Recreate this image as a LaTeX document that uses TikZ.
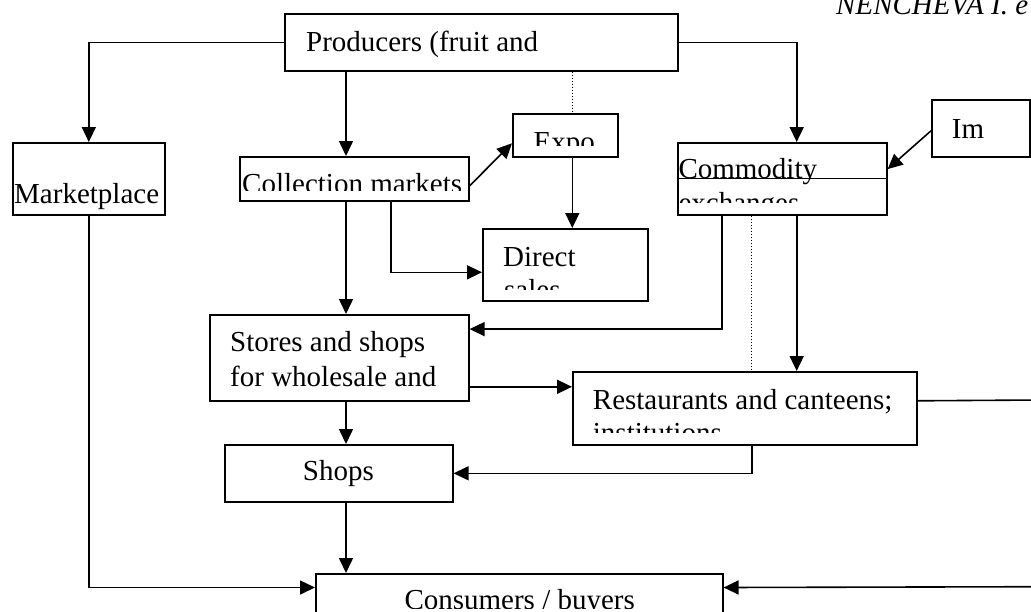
\documentclass[tikz,border=0pt]{standalone}
\usepackage{fontspec}
\setmainfont{Liberation Serif}
\usetikzlibrary{arrows.meta}

\tikzset{
  box/.style={draw, line width=1.6pt, inner sep=0pt, anchor=north west},
  txt/.style={inner sep=0pt, anchor=base west},
  arr/.style={line width=1.6pt, -{Triangle[length=15pt,width=14pt]}},
  dots/.style={line width=1pt, dash pattern=on 1pt off 2pt}
}

\begin{document}
\begin{tikzpicture}[x=1pt, y=-1pt, font=\fontsize{29}{33.5}\selectfont]
	\clip (0,0) rectangle (1031,611);
	\node[box, minimum width=393pt, minimum height=57pt] (prod) at (284,13) {};
	\node[box, minimum width=152pt, minimum height=72pt] (mkt) at (12,142) {};
	\node[box, minimum width=229pt, minimum height=44pt] (coll) at (239,156) {};
	\node[box, minimum width=105pt, minimum height=43pt] (expo) at (512,113) {};
	\node[box, minimum width=165pt, minimum height=72pt] (direct) at (482,228) {};
	\node[box, minimum width=209pt, minimum height=72pt] (comm) at (677,142) {};
	\node[box, minimum width=98pt, minimum height=57pt] (imp) at (931,99) {};
	\node[box, minimum width=259pt, minimum height=86pt] (stores) at (209,314) {};
	\node[box, minimum width=228pt, minimum height=57pt] (shops) at (224,444) {};
	\node[box, minimum width=344pt, minimum height=73pt] (rest) at (572,371) {};
	\node[box, minimum width=407pt, minimum height=80pt] (cons) at (315,573) {};
	\draw[line width=1.6pt] ([yshift=-36.5pt]comm.north west) -- ([yshift=-36.5pt]comm.north east);

	\node[txt, font=\fontsize{29}{33.5}\selectfont\itshape] (auth) at (836,14.7) {NENCHEVA I. e};
	\node[txt] (prodtxt) at (306,51) {Producers (fruit and};
	\node[txt] (mkttxt) at (14,203) {Marketplace};
	\node[txt] (directtxt) at (503,266) {Direct};
	\node[txt] (imptxt) at (951.7,138.3) {Im};
	\node[txt] (storestxt) at (230,351.7) {Stores and shops};
	\node[txt] (storestxtb) at (230,386) {for wholesale and};
	\node[txt] (shopstxt) at (302.7,480.7) {Shops};
	\node[txt] (resttxt) at (592.7,409.3) {Restaurants and canteens;};
	\begin{scope}
		\clip (239,156) rectangle (468,190);
		\node[txt] (colltxt) at (242,193.2) {Collection markets};
	\end{scope}
	\begin{scope}
		\clip (512,113) rectangle (617,145.5);
		\node[txt] (expotxt) at (533.5,151.7) {Expo};
	\end{scope}
	\begin{scope}
		\clip (482,228) rectangle (647,289.3);
		\node[txt] (directtxtb) at (504,299.3) {sales};
	\end{scope}
	\begin{scope}
		\clip (677,142) rectangle (886,202.7);
		\node[txt] (commtxt) at (678.3,178) {Commodity};
		\node[txt] (commtxtb) at (678.3,212.3) {exchanges};
	\end{scope}
	\begin{scope}
		\clip (572,371) rectangle (916,432.7);
		\node[txt] (resttxtb) at (592.7,442.8) {institutions};
	\end{scope}
	\begin{scope}
		\clip (315,573) rectangle (722,608);
		\node[txt] (constxt) at (404.3,609.5) {Consumers / buyers};
	\end{scope}

	\coordinate (xa) at (346,0);
	\coordinate (xb) at (572.3,0);
	\coordinate (xc) at (391,0);
	\coordinate (xd) at (721.7,0);
	\coordinate (xe) at (751.7,0);
	\coordinate (xf) at (796.7,0);
	\coordinate (ra) at (1040,400);
	\coordinate (rb) at (1040,586.7);

	\draw[arr] (prod.west) -| (mkt.north);
	\draw[arr] (prod.east) -| (comm.north -| xf);
	\draw[arr] (prod.south -| xa) -- (coll.north -| xa);
	\draw[dots] (prod.south -| xb) -- (expo.north -| xb);
	\draw[arr] ([yshift=-7pt]coll.east) -- ([yshift=-8pt]expo.west);
	\draw[arr] (expo.south -| xb) -- (direct.north -| xb);
	\draw[arr] (coll.south -| xc) |- ([yshift=-7.5pt]direct.west);
	\draw[arr] (coll.south -| xa) -- (stores.north -| xa);
	\draw[arr] ([yshift=-2.5pt]imp.west) -- ([yshift=9.7pt]comm.east);
	\draw[arr] (comm.south -| xd) |- ([yshift=28.7pt]stores.east);
	\draw[dots] (comm.south -| xe) -- (rest.north -| xe);
	\draw[arr] (comm.south -| xf) -- (rest.north -| xf);
	\draw[arr] ([yshift=-29pt]stores.east) -- ([yshift=21.5pt]rest.west);
	\draw[arr] (stores.south -| xa) -- (shops.north -| xa);
	\draw[arr] (rest.south -| xe) |- (shops.east);
	\draw[line width=1.6pt] ([yshift=7.5pt]rest.east) -- (ra);
	\draw[arr] (shops.south -| xa) -- (cons.north -| xa);
	\draw[arr] (mkt.south) |- ([yshift=26.3pt]cons.west);
	\draw[arr] (rb) -- ([yshift=26.3pt]cons.east);
\end{tikzpicture}
\end{document}
